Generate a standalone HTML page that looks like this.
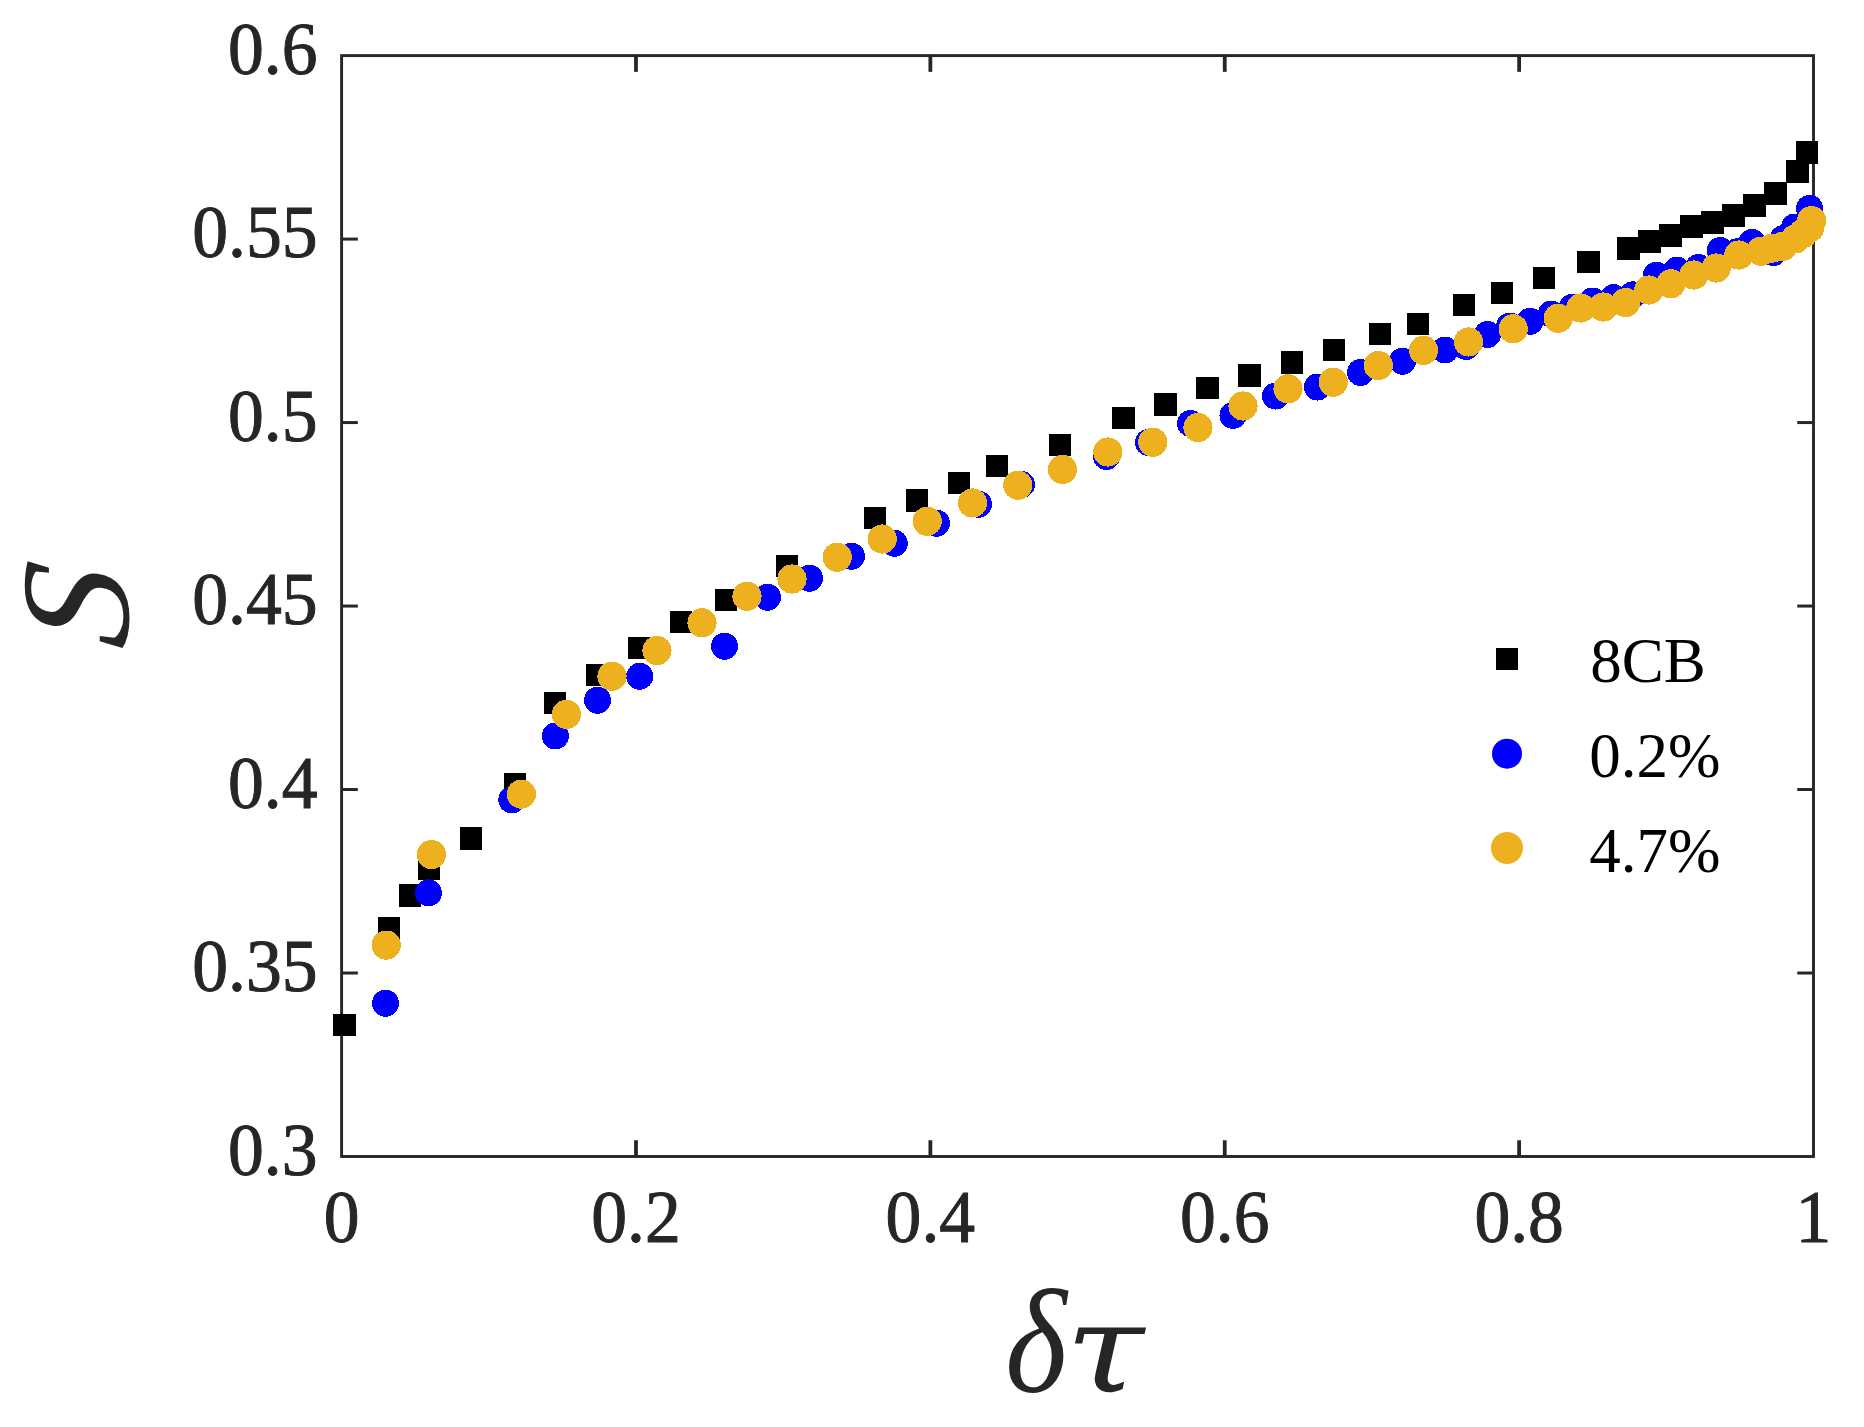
<!DOCTYPE html>
<html lang="en"><head><meta charset="utf-8"><title>S vs delta tau</title>
<style>
html,body{margin:0;padding:0;background:#fff;}
svg{display:block;}
.tk{font-family:"Liberation Serif","DejaVu Serif",serif;font-size:74.2px;fill:#262626;stroke:#262626;stroke-width:1px;}
.lg{font-family:"Liberation Serif","DejaVu Serif",serif;font-size:63px;fill:#000;}
.al{font-family:"Liberation Serif","DejaVu Serif",serif;font-style:italic;font-size:150px;fill:#262626;}
.ad{font-family:"DejaVu Serif","Liberation Serif",serif;font-style:italic;font-size:150px;fill:#262626;}
</style></head><body>
<svg width="1864" height="1427" viewBox="0 0 1864 1427">
<rect x="0" y="0" width="1864" height="1427" fill="#ffffff"/>
<g stroke="#262626" fill="none" stroke-linecap="butt">
<rect x="341.60" y="55.60" width="1471.90" height="1100.90" stroke-width="2.90"/>
<line x1="635.98" y1="1156.50" x2="635.98" y2="1140.25" stroke-width="3.80"/>
<line x1="635.98" y1="55.60" x2="635.98" y2="71.85" stroke-width="3.80"/>
<line x1="930.36" y1="1156.50" x2="930.36" y2="1140.25" stroke-width="3.80"/>
<line x1="930.36" y1="55.60" x2="930.36" y2="71.85" stroke-width="3.80"/>
<line x1="1224.74" y1="1156.50" x2="1224.74" y2="1140.25" stroke-width="3.80"/>
<line x1="1224.74" y1="55.60" x2="1224.74" y2="71.85" stroke-width="3.80"/>
<line x1="1519.12" y1="1156.50" x2="1519.12" y2="1140.25" stroke-width="3.80"/>
<line x1="1519.12" y1="55.60" x2="1519.12" y2="71.85" stroke-width="3.80"/>
<line x1="341.60" y1="973.02" x2="357.85" y2="973.02" stroke-width="3.00"/>
<line x1="1813.50" y1="973.02" x2="1797.25" y2="973.02" stroke-width="3.00"/>
<line x1="341.60" y1="789.53" x2="357.85" y2="789.53" stroke-width="3.00"/>
<line x1="1813.50" y1="789.53" x2="1797.25" y2="789.53" stroke-width="3.00"/>
<line x1="341.60" y1="606.05" x2="357.85" y2="606.05" stroke-width="3.00"/>
<line x1="1813.50" y1="606.05" x2="1797.25" y2="606.05" stroke-width="3.00"/>
<line x1="341.60" y1="422.57" x2="357.85" y2="422.57" stroke-width="3.00"/>
<line x1="1813.50" y1="422.57" x2="1797.25" y2="422.57" stroke-width="3.00"/>
<line x1="341.60" y1="239.08" x2="357.85" y2="239.08" stroke-width="3.00"/>
<line x1="1813.50" y1="239.08" x2="1797.25" y2="239.08" stroke-width="3.00"/>
</g>
<text class="tk" transform="translate(341.60,1241.80) scale(0.965,1)" text-anchor="middle">0</text>
<text class="tk" transform="translate(635.98,1241.80) scale(0.965,1)" text-anchor="middle">0.2</text>
<text class="tk" transform="translate(930.36,1241.80) scale(0.965,1)" text-anchor="middle">0.4</text>
<text class="tk" transform="translate(1224.74,1241.80) scale(0.965,1)" text-anchor="middle">0.6</text>
<text class="tk" transform="translate(1519.12,1241.80) scale(0.965,1)" text-anchor="middle">0.8</text>
<text class="tk" transform="translate(1813.50,1241.80) scale(0.965,1)" text-anchor="middle">1</text>
<text class="tk" transform="translate(317.50,1174.50) scale(0.965,1)" text-anchor="end">0.3</text>
<text class="tk" transform="translate(317.50,991.02) scale(0.965,1)" text-anchor="end">0.35</text>
<text class="tk" transform="translate(317.50,807.53) scale(0.965,1)" text-anchor="end">0.4</text>
<text class="tk" transform="translate(317.50,624.05) scale(0.965,1)" text-anchor="end">0.45</text>
<text class="tk" transform="translate(317.50,440.57) scale(0.965,1)" text-anchor="end">0.5</text>
<text class="tk" transform="translate(317.50,257.08) scale(0.965,1)" text-anchor="end">0.55</text>
<text class="tk" transform="translate(317.50,73.60) scale(0.965,1)" text-anchor="end">0.6</text>
<text class="al" transform="translate(1005.2,1392.1) scale(0.882,0.984)">δ</text>
<text class="ad" transform="translate(1065.5,1392.3) scale(0.948,0.829)">τ</text>
<text class="al" transform="translate(127.9,650.5) rotate(-90) skewX(-7) scale(1.06,1.04)">S</text>
<g fill="#000000" shape-rendering="crispEdges">
<rect x="333.30" y="1013.50" width="22.60" height="22.60"/>
<rect x="377.60" y="916.60" width="22.60" height="22.60"/>
<rect x="398.60" y="883.90" width="22.60" height="22.60"/>
<rect x="417.70" y="857.30" width="22.60" height="22.60"/>
<rect x="459.70" y="826.90" width="22.60" height="22.60"/>
<rect x="503.70" y="772.80" width="22.60" height="22.60"/>
<rect x="543.70" y="691.70" width="22.60" height="22.60"/>
<rect x="585.70" y="663.70" width="22.60" height="22.60"/>
<rect x="627.70" y="636.70" width="22.60" height="22.60"/>
<rect x="669.70" y="610.70" width="22.60" height="22.60"/>
<rect x="714.70" y="588.70" width="22.60" height="22.60"/>
<rect x="775.70" y="554.70" width="22.60" height="22.60"/>
<rect x="863.70" y="506.70" width="22.60" height="22.60"/>
<rect x="905.70" y="489.20" width="22.60" height="22.60"/>
<rect x="947.70" y="471.70" width="22.60" height="22.60"/>
<rect x="985.70" y="454.70" width="22.60" height="22.60"/>
<rect x="1048.70" y="433.70" width="22.60" height="22.60"/>
<rect x="1111.95" y="406.70" width="22.60" height="22.60"/>
<rect x="1153.95" y="392.95" width="22.60" height="22.60"/>
<rect x="1195.95" y="376.70" width="22.60" height="22.60"/>
<rect x="1237.95" y="363.95" width="22.60" height="22.60"/>
<rect x="1280.70" y="350.95" width="22.60" height="22.60"/>
<rect x="1322.70" y="338.70" width="22.60" height="22.60"/>
<rect x="1368.70" y="322.70" width="22.60" height="22.60"/>
<rect x="1406.70" y="312.70" width="22.60" height="22.60"/>
<rect x="1452.70" y="293.70" width="22.60" height="22.60"/>
<rect x="1490.70" y="281.70" width="22.60" height="22.60"/>
<rect x="1532.70" y="266.70" width="22.60" height="22.60"/>
<rect x="1576.95" y="250.70" width="22.60" height="22.60"/>
<rect x="1617.20" y="237.20" width="22.60" height="22.60"/>
<rect x="1638.20" y="230.20" width="22.60" height="22.60"/>
<rect x="1659.20" y="224.20" width="22.60" height="22.60"/>
<rect x="1680.20" y="215.20" width="22.60" height="22.60"/>
<rect x="1701.20" y="211.20" width="22.60" height="22.60"/>
<rect x="1722.20" y="204.20" width="22.60" height="22.60"/>
<rect x="1743.20" y="194.20" width="22.60" height="22.60"/>
<rect x="1764.20" y="182.20" width="22.60" height="22.60"/>
<rect x="1785.95" y="160.10" width="22.60" height="22.60"/>
<rect x="1795.80" y="141.20" width="22.60" height="22.60"/>
</g>
<g fill="#0000ff" shape-rendering="crispEdges">
<circle cx="385.50" cy="1003.20" r="13.50"/>
<circle cx="428.40" cy="892.90" r="13.50"/>
<circle cx="511.80" cy="799.90" r="13.50"/>
<circle cx="555.25" cy="736.00" r="13.50"/>
<circle cx="597.50" cy="700.25" r="13.50"/>
<circle cx="639.75" cy="676.25" r="13.50"/>
<circle cx="724.50" cy="646.25" r="13.50"/>
<circle cx="767.50" cy="597.25" r="13.50"/>
<circle cx="809.50" cy="578.25" r="13.50"/>
<circle cx="851.50" cy="556.25" r="13.50"/>
<circle cx="894.25" cy="543.25" r="13.50"/>
<circle cx="936.50" cy="523.25" r="13.50"/>
<circle cx="978.50" cy="504.25" r="13.50"/>
<circle cx="1021.50" cy="484.50" r="13.50"/>
<circle cx="1063.50" cy="469.50" r="13.50"/>
<circle cx="1106.50" cy="456.50" r="13.50"/>
<circle cx="1148.50" cy="442.50" r="13.50"/>
<circle cx="1190.50" cy="423.50" r="13.50"/>
<circle cx="1233.00" cy="415.50" r="13.50"/>
<circle cx="1275.50" cy="396.00" r="13.50"/>
<circle cx="1317.50" cy="387.00" r="13.50"/>
<circle cx="1360.50" cy="372.50" r="13.50"/>
<circle cx="1402.50" cy="361.25" r="13.50"/>
<circle cx="1445.00" cy="350.00" r="13.50"/>
<circle cx="1466.25" cy="346.50" r="13.50"/>
<circle cx="1487.50" cy="334.50" r="13.50"/>
<circle cx="1509.75" cy="326.00" r="13.50"/>
<circle cx="1530.00" cy="321.25" r="13.50"/>
<circle cx="1551.25" cy="314.00" r="13.50"/>
<circle cx="1572.50" cy="307.25" r="13.50"/>
<circle cx="1592.50" cy="301.00" r="13.50"/>
<circle cx="1613.50" cy="297.60" r="13.50"/>
<circle cx="1633.00" cy="294.80" r="13.50"/>
<circle cx="1656.40" cy="275.20" r="13.50"/>
<circle cx="1677.00" cy="270.20" r="13.50"/>
<circle cx="1698.50" cy="267.50" r="13.50"/>
<circle cx="1720.20" cy="250.50" r="13.50"/>
<circle cx="1737.00" cy="251.80" r="13.50"/>
<circle cx="1752.00" cy="242.40" r="13.50"/>
<circle cx="1773.50" cy="252.50" r="13.50"/>
<circle cx="1783.30" cy="238.50" r="13.50"/>
<circle cx="1794.60" cy="227.00" r="13.50"/>
<circle cx="1809.60" cy="208.40" r="13.50"/>
</g>
<g fill="#edb120" shape-rendering="crispEdges">
<circle cx="386.20" cy="945.10" r="14.60"/>
<circle cx="431.40" cy="854.60" r="14.60"/>
<circle cx="521.40" cy="794.10" r="14.60"/>
<circle cx="566.40" cy="714.30" r="14.60"/>
<circle cx="612.00" cy="676.25" r="14.60"/>
<circle cx="657.00" cy="650.50" r="14.60"/>
<circle cx="702.00" cy="622.75" r="14.60"/>
<circle cx="747.00" cy="596.25" r="14.60"/>
<circle cx="792.00" cy="579.00" r="14.60"/>
<circle cx="837.25" cy="557.25" r="14.60"/>
<circle cx="882.25" cy="539.00" r="14.60"/>
<circle cx="927.25" cy="521.25" r="14.60"/>
<circle cx="972.50" cy="503.00" r="14.60"/>
<circle cx="1017.75" cy="485.25" r="14.60"/>
<circle cx="1062.50" cy="469.50" r="14.60"/>
<circle cx="1107.75" cy="452.00" r="14.60"/>
<circle cx="1152.75" cy="442.25" r="14.60"/>
<circle cx="1198.00" cy="427.50" r="14.60"/>
<circle cx="1243.00" cy="406.00" r="14.60"/>
<circle cx="1288.00" cy="388.75" r="14.60"/>
<circle cx="1333.25" cy="382.25" r="14.60"/>
<circle cx="1378.25" cy="365.50" r="14.60"/>
<circle cx="1423.50" cy="350.25" r="14.60"/>
<circle cx="1468.50" cy="342.00" r="14.60"/>
<circle cx="1513.25" cy="328.75" r="14.60"/>
<circle cx="1558.25" cy="318.25" r="14.60"/>
<circle cx="1580.75" cy="308.00" r="14.60"/>
<circle cx="1603.25" cy="307.00" r="14.60"/>
<circle cx="1625.75" cy="302.50" r="14.60"/>
<circle cx="1648.75" cy="290.00" r="14.60"/>
<circle cx="1670.75" cy="283.75" r="14.60"/>
<circle cx="1693.75" cy="275.00" r="14.60"/>
<circle cx="1716.25" cy="268.00" r="14.60"/>
<circle cx="1738.75" cy="255.00" r="14.60"/>
<circle cx="1761.00" cy="251.20" r="14.60"/>
<circle cx="1772.30" cy="248.10" r="14.60"/>
<circle cx="1782.70" cy="246.30" r="14.60"/>
<circle cx="1795.60" cy="238.80" r="14.60"/>
<circle cx="1802.90" cy="233.60" r="14.60"/>
<circle cx="1809.60" cy="227.90" r="14.60"/>
<circle cx="1811.60" cy="220.60" r="14.60"/>
</g>
<rect x="1496.00" y="648.00" width="22" height="22" fill="#000"/>
<circle cx="1507" cy="753.7" r="15" fill="#0000ff"/>
<circle cx="1507" cy="847.9" r="16" fill="#edb120"/>
<text class="lg" x="1590.2" y="681.8">8CB</text>
<text class="lg" x="1589.2" y="777">0.2%</text>
<text class="lg" x="1589.2" y="871.7">4.7%</text>
</svg>
</body></html>
